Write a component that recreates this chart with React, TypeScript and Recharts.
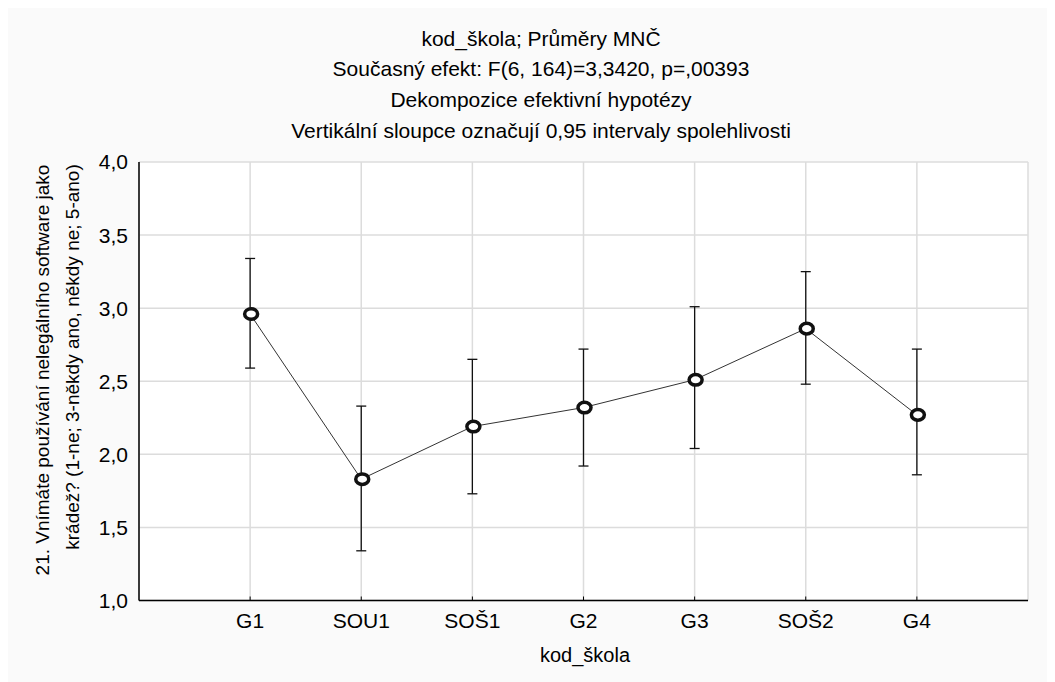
import React from 'react';
import { LineChart, Line, XAxis, YAxis, CartesianGrid, ErrorBar } from 'recharts';

const categories = ['G1', 'SOU1', 'SOŠ1', 'G2', 'G3', 'SOŠ2', 'G4'];
const means = [2.96, 1.83, 2.19, 2.32, 2.51, 2.86, 2.27];
const upper = [3.34, 2.33, 2.65, 2.72, 3.01, 3.25, 2.72];
const lower = [2.59, 1.34, 1.73, 1.92, 2.04, 2.48, 1.86];
const yTicks = [1, 1.5, 2, 2.5, 3, 3.5, 4];
const xTicks = [1, 2, 3, 4, 5, 6, 7];

const titleLines = [
  'kod_škola; Průměry MNČ',
  'Současný efekt: F(6, 164)=3,3420, p=,00393',
  'Dekompozice efektivní hypotézy',
  'Vertikální sloupce označují 0,95 intervaly spolehlivosti',
];
const yLabelLines = [
  '21. Vnímáte používání nelegálního software jako',
  'krádež? (1-ne; 3-někdy ano, někdy ne; 5-ano)',
];
const xLabel = 'kod_škola';

const data = categories.map((c, i) => ({
  x: i + 1,
  name: c,
  mean: means[i],
  err: [means[i] - lower[i], upper[i] - means[i]],
}));

const FONT = '"Liberation Sans", Arial, sans-serif';
const W = 1051;
const H = 674;

const Dot = (props: any) => {
  const { cx, cy, index } = props;
  if (cx == null || cy == null) return null;
  return <ellipse key={index} cx={cx + 1} cy={cy} rx={6.5} ry={5.3} stroke="#111" strokeWidth={3.5} fill="#fff" />;
};

export default function App() {
  return (
    <div style={{ position: 'relative', width: W, height: H, marginLeft: -4, background: '#fafafa', fontFamily: FONT }}>
      <LineChart
        width={W}
        height={H}
        data={data}
        margin={{ top: 154, right: 27, bottom: 41.5, left: 75 }}
      >
        <CartesianGrid stroke="#dcdcdc" strokeWidth={1.5} fill="#ffffff" />
        <XAxis
          dataKey="x"
          type="number"
          domain={[0, 8]}
          ticks={xTicks}
          interval={0}
          tickFormatter={(v: number) => categories[v - 1] ?? ''}
          height={40}
          axisLine={{ stroke: '#000', strokeWidth: 1.5 }}
          tickLine={{ stroke: '#000' }}
          tickSize={-4}
          tickMargin={16.3}
          tick={{ fill: '#000', fontSize: 21, fontFamily: FONT }}
        />
        <XAxis
          xAxisId="top"
          orientation="top"
          type="number"
          domain={[0, 8]}
          height={0}
          tick={false}
          tickLine={false}
          axisLine={{ stroke: '#222', strokeWidth: 1.5 }}
        />
        <YAxis
          type="number"
          domain={[1, 4]}
          ticks={yTicks}
          interval={0}
          width={60}
          tickFormatter={(v: number) => v.toFixed(1).replace('.', ',')}
          axisLine={{ stroke: '#000', strokeWidth: 1.5 }}
          tickLine={false}
          tickSize={0}
          tickMargin={11}
          tick={{ fill: '#000', fontSize: 21, fontFamily: FONT }}
        />
        <YAxis
          yAxisId="right"
          orientation="right"
          type="number"
          domain={[1, 4]}
          width={0}
          tick={false}
          tickLine={false}
          axisLine={{ stroke: '#000', strokeWidth: 1.5 }}
        />
        <Line
          dataKey="mean"
          stroke="#333"
          strokeWidth={1}
          dot={Dot}
          activeDot={false}
          isAnimationActive={false}
        >
          <ErrorBar dataKey="err" direction="y" width={5} stroke="#111" strokeWidth={1.3} isAnimationActive={false} />
        </Line>
      </LineChart>
      <svg
        width={W}
        height={H}
        style={{ position: 'absolute', left: 0, top: 0, pointerEvents: 'none' }}
      >
        {titleLines.map((t, i) => (
          <text key={i} x={537} y={37.5 + i * 30.7} textAnchor="middle" fontSize={21} fontFamily={FONT} fill="#000">
            {t}
          </text>
        ))}
        <text transform="translate(45, 362) rotate(-90)" textAnchor="middle" fontSize={19} fontFamily={FONT} fill="#000">
          {yLabelLines[0]}
        </text>
        <text transform="translate(75, 349) rotate(-90)" textAnchor="middle" fontSize={19} fontFamily={FONT} fill="#000">
          {yLabelLines[1]}
        </text>
        <text x={581} y={654} textAnchor="middle" fontSize={20} fontFamily={FONT} fill="#000">
          {xLabel}
        </text>
      </svg>
    </div>
  );
}
